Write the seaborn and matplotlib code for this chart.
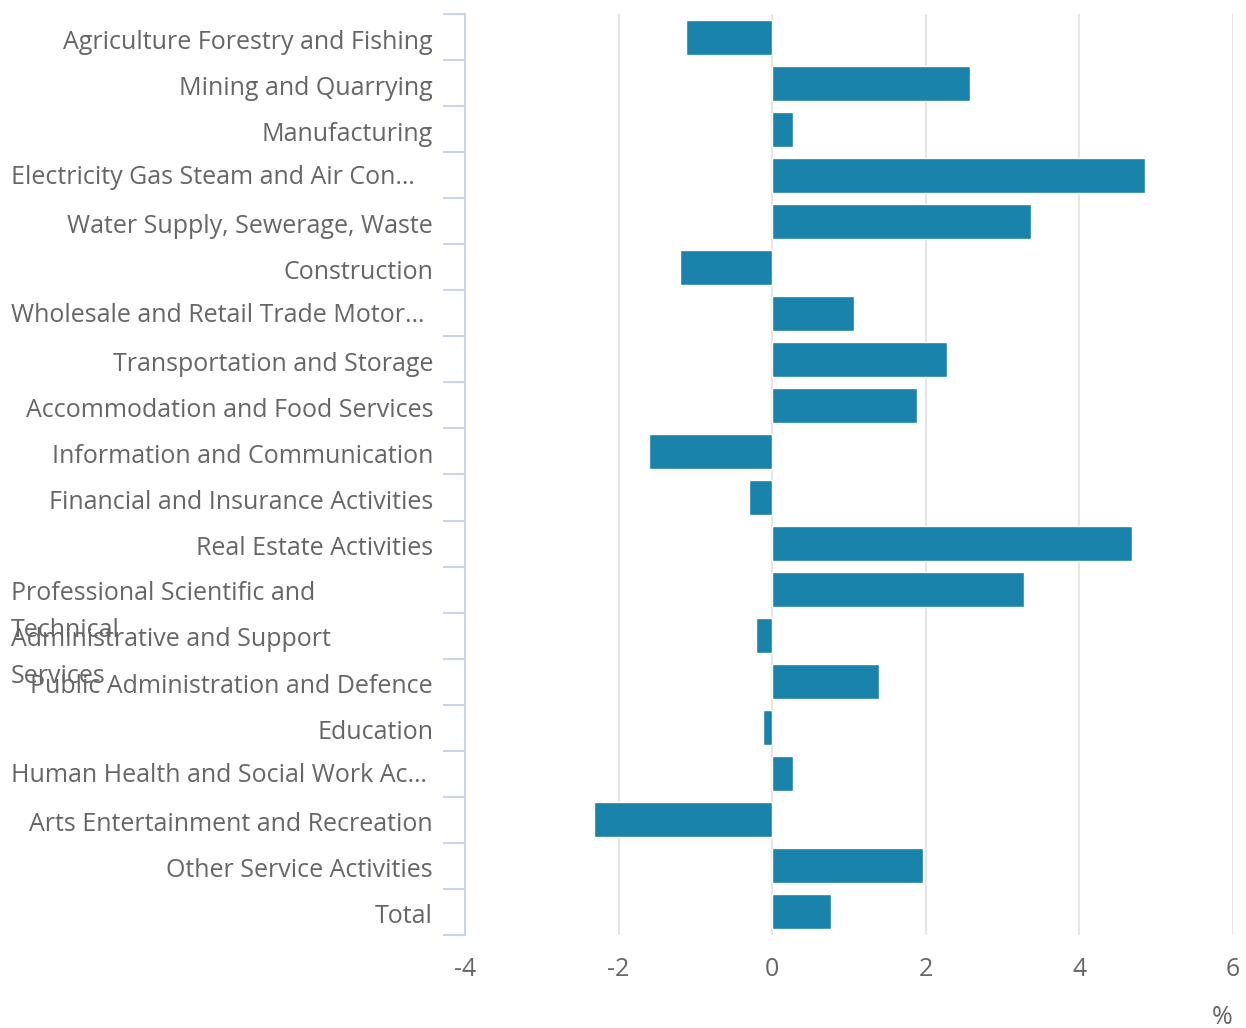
import numpy as np
import pandas as pd
import matplotlib
matplotlib.use('Agg')
import matplotlib.pyplot as plt
import matplotlib.transforms as mtransforms
import seaborn as sns

# ==================== DATA ====================

categories = [
    'Agriculture Forestry and Fishing',
    'Mining and Quarrying',
    'Manufacturing',
    'Electricity Gas Steam and Air Con…',
    'Water Supply, Sewerage, Waste',
    'Construction',
    'Wholesale and Retail Trade Motor…',
    'Transportation and Storage',
    'Accommodation and Food Services',
    'Information and Communication',
    'Financial and Insurance Activities',
    'Real Estate Activities',
    'Professional Scientific and\nTechnical',
    'Administrative and Support\nServices',
    'Public Administration and Defence',
    'Education',
    'Human Health and Social Work Ac…',
    'Arts Entertainment and Recreation',
    'Other Service Activities',
    'Total',
]

values = [
    -1.12, 2.58, 0.27, 4.86, 3.37, -1.20, 1.07, 2.27, 1.89, -1.61,
    -0.30, 4.69, 3.28, -0.21, 1.39, -0.12, 0.27, -2.32, 1.97, 0.77,
]

x_ticks = [-4, -2, 0, 2, 4, 6]

df = pd.DataFrame({'category': categories, 'value': values})

# ==================== STYLE ====================

sns.set_style('white')
plt.rcParams['font.family'] = ['Open Sans', 'DejaVu Sans']

TEXT = '#666666'
BAR = '#1a83ab'
AXIS = '#c8d4ec'
GRID = '#e6e6e6'
FS = 18

fig = plt.figure(figsize=(12.46, 10.28), dpi=100)
ax = fig.add_axes([465 / 1246, 93 / 1028, 768 / 1246, 921 / 1028])

sns.barplot(
    data=df,
    x='value',
    y='category',
    orient='h',
    color=BAR,
    saturation=1,
    width=0.76,
    ax=ax,
)

ax.set_xlim(-4, 6)
ax.set_ylim(len(categories) - 0.5, -0.5)
ax.set_xticks(x_ticks)
ax.set_xticklabels([str(t) for t in x_ticks])
ax.grid(axis='x', color=GRID, linewidth=1.5)
ax.set_axisbelow(True)

for s in ['top', 'right', 'bottom']:
    ax.spines[s].set_visible(False)
ax.spines['left'].set_color(AXIS)
ax.spines['left'].set_linewidth(1.5)

ax.set_xlabel('')
ax.set_ylabel('')

# boundaries between categories as minor ticks
ax.set_yticks(np.arange(-0.5, len(categories), 1), minor=True)
ax.tick_params(axis='y', which='minor', length=16, width=1.5, color=AXIS, left=True)
ax.tick_params(axis='y', which='major', length=0, pad=23, labelsize=FS, labelcolor=TEXT)
ax.tick_params(axis='x', which='major', length=0, pad=16, labelsize=FS, labelcolor=TEXT)

# long labels are placed left-aligned at the figure edge
labels = []
for i, name in enumerate(categories):
    long_label = ('\n' in name) or name.endswith('…')
    labels.append('' if long_label else name)
    if long_label:
        if '\n' in name:
            ax.annotate(name, xy=(11, i), xycoords=('figure pixels', 'data'),
                        xytext=(0, 6), textcoords='offset points',
                        ha='left', va='top', fontsize=FS, color=TEXT,
                        linespacing=1.6, annotation_clip=False)
        else:
            ax.annotate(name, xy=(11, i), xycoords=('figure pixels', 'data'),
                        xytext=(0, -1.5), textcoords='offset points',
                        ha='left', va='center', fontsize=FS, color=TEXT,
                        annotation_clip=False)
ax.set_yticklabels(labels)

# labels sit a touch below the bar centres
shift = mtransforms.ScaledTranslation(0, -2 / 100, fig.dpi_scale_trans)
for lbl in ax.get_yticklabels():
    lbl.set_transform(lbl.get_transform() + shift)

fig.text(1222 / 1246, 1 - 1017 / 1028, '%', ha='center', va='center',
         fontsize=FS, color=TEXT)

plt.savefig('out.png', dpi=100)
